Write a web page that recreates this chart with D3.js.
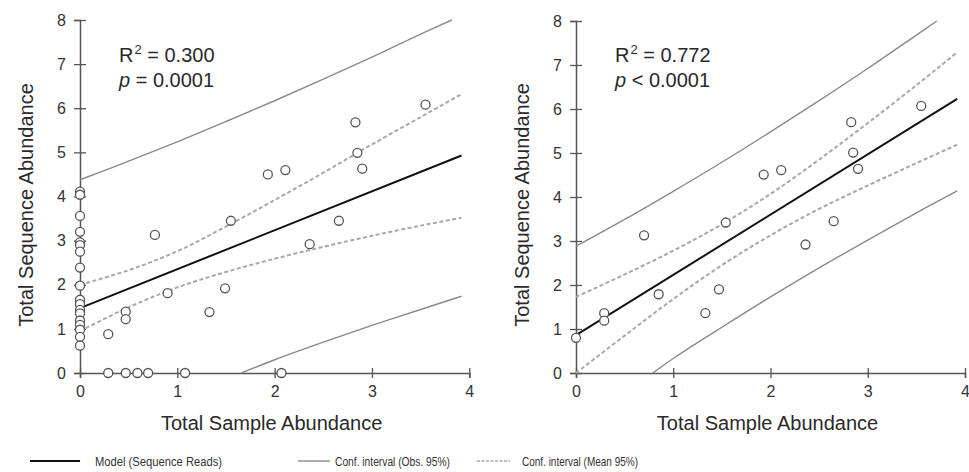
<!DOCTYPE html>
<html>
<head>
<meta charset="utf-8">
<script src="https://cdn.jsdelivr.net/npm/d3@7"></script>
<style>
  html, body { margin: 0; padding: 0; background: #fff; }
  svg { display: block; font-family: "Liberation Sans", Arial, sans-serif; }
</style>
</head>
<body>
<svg id="chart" width="969" height="472"></svg>
<script>
// ---------------- DATA ----------------
const xTicks = [0, 1, 2, 3, 4];
const yTicks = [0, 1, 2, 3, 4, 5, 6, 7, 8];

// Left panel: all samples
const leftX = [0,0,0,0,0,0,0,0,0,0,0,0,0,0,0,0,0,0,
  0.29,0.47,0.59,0.70,1.08,2.07,
  0.29,0.47,0.47,0.90,0.77,1.33,1.49,1.55,1.93,2.11,2.36,2.83,2.85,2.90,2.66,3.55];
const leftY = [4.11,4.04,3.56,3.20,2.96,2.90,2.75,2.39,1.98,1.66,1.56,1.43,1.35,1.19,1.09,0.98,0.82,0.62,
  0,0,0,0,0,0,
  0.88,1.39,1.22,1.81,3.13,1.38,1.92,3.45,4.50,4.60,2.92,5.68,4.99,4.63,3.45,6.08];

// Right panel: non-zero samples
const rightX = [0,0.29,0.29,0.70,0.85,1.33,1.47,1.54,1.93,2.11,2.83,2.85,2.90,2.65,2.36,3.55];
const rightY = [0.80,1.36,1.19,3.13,1.79,1.36,1.90,3.42,4.51,4.61,5.70,5.01,4.64,3.45,2.92,6.07];

// Regression model lines (end points)
const modelX = [0, 3.92];
const leftModel = [1.47, 4.93];
const rightModel = [0.86, 6.23];

// Confidence bands
const bandX = [0, 0.5, 1, 1.5, 2, 2.5, 3, 3.5, 3.92];
const leftMeanUpper = [2.00, 2.33, 2.76, 3.32, 3.92, 4.54, 5.18, 5.80, 6.32];
const leftMeanLower = [0.95, 1.49, 1.94, 2.29, 2.59, 2.86, 3.11, 3.34, 3.52];
const leftObsUpperX = [0, 0.5, 1, 1.5, 2, 2.5, 3, 3.5, 3.82];
const leftObsUpper = [4.38, 4.80, 5.24, 5.70, 6.17, 6.66, 7.16, 7.68, 8.0];
const leftObsLowerX = [1.66, 2, 2.5, 3, 3.5, 3.92];
const leftObsLower = [0, 0.30, 0.70, 1.08, 1.44, 1.74];

const rightMeanUpper = [1.73, 2.24, 2.78, 3.38, 4.07, 4.85, 5.68, 6.54, 7.29];
const rightMeanLower = [0, 0.85, 1.68, 2.45, 3.13, 3.73, 4.26, 4.77, 5.19];
const rightObsUpperX = [0, 0.5, 1, 1.5, 2, 2.5, 3, 3.5, 3.71];
const rightObsUpper = [2.88, 3.49, 4.13, 4.79, 5.48, 6.19, 6.92, 7.68, 8.0];
const rightObsLowerX = [0.79, 1, 1.5, 2, 2.5, 3, 3.5, 3.92];
const rightObsLower = [0, 0.33, 1.04, 1.73, 2.39, 3.02, 3.64, 4.14];

const statsLeft = ["0.300", "= 0.0001"];
const statsRight = ["0.772", "< 0.0001"];
const xTitle = "Total Sample Abundance";
const yTitle = "Total Sequence Abundance";
const legendLabels = ["Model (Sequence Reads)", "Conf. interval (Obs. 95%)", "Conf. interval (Mean 95%)"];

// ---------------- DRAW ----------------
const svg = d3.select("#chart");
const AXIS = "#555";
const TXT = "#2a2a2a";

function zip(xs, ys) { return xs.map((x, i) => [x, ys[i]]); }

function panel(cfg) {
  const x = d3.scaleLinear().domain([0, 4]).range([cfg.left, cfg.right]);
  const y = d3.scaleLinear().domain([0, 8]).range([cfg.bottom, cfg.top]);
  const g = svg.append("g");

  // x axis
  const gx = g.append("g").attr("transform", `translate(0,${cfg.bottom})`)
    .call(d3.axisBottom(x).tickValues(xTicks).tickSizeOuter(0).tickSize(5).tickFormat(d3.format("d")));
  gx.selectAll(".tick line").attr("y1", -5).attr("y2", 5).attr("stroke", AXIS).attr("stroke-width", 1.3);
  gx.selectAll(".tick text").attr("y", 13).attr("font-size", 16).attr("fill", "#333")
    .attr("font-family", "'Liberation Sans', Arial, sans-serif");
  gx.select(".domain").attr("stroke", AXIS).attr("stroke-width", 1.5);

  // y axis
  const gy = g.append("g").attr("transform", `translate(${cfg.left},0)`)
    .call(d3.axisLeft(y).tickValues(yTicks).tickSizeOuter(0).tickSize(6).tickFormat(d3.format("d")));
  gy.selectAll(".tick line").attr("x1", -6).attr("x2", 6).attr("stroke", AXIS).attr("stroke-width", 1.3);
  gy.selectAll(".tick text").attr("x", -14).attr("font-size", 16).attr("fill", "#333")
    .attr("font-family", "'Liberation Sans', Arial, sans-serif");
  gy.select(".domain").attr("stroke", AXIS).attr("stroke-width", 1.5);

  const line = d3.line().x(d => x(d[0])).y(d => y(d[1])).curve(d3.curveCatmullRom.alpha(0.5));

  // obs CI
  g.append("path").attr("d", line(zip(cfg.obsUpperX, cfg.obsUpper)))
    .attr("fill", "none").attr("stroke", "#8a8a8a").attr("stroke-width", 1.4);
  g.append("path").attr("d", line(zip(cfg.obsLowerX, cfg.obsLower)))
    .attr("fill", "none").attr("stroke", "#8a8a8a").attr("stroke-width", 1.4);
  // mean CI
  g.append("path").attr("d", line(zip(bandX, cfg.meanUpper)))
    .attr("fill", "none").attr("stroke", "#a8a8a8").attr("stroke-width", 2).attr("stroke-dasharray", "4,2.5");
  g.append("path").attr("d", line(zip(bandX, cfg.meanLower)))
    .attr("fill", "none").attr("stroke", "#a8a8a8").attr("stroke-width", 2).attr("stroke-dasharray", "4,2.5");
  // model
  g.append("path").attr("d", d3.line().x(d => x(d[0])).y(d => y(d[1]))(zip(modelX, cfg.model)))
    .attr("fill", "none").attr("stroke", "#111").attr("stroke-width", 2);

  // points
  g.selectAll("circle").data(zip(cfg.px, cfg.py)).join("circle")
    .attr("cx", d => x(d[0])).attr("cy", d => y(d[1])).attr("r", 4.5)
    .attr("fill", "#fff").attr("stroke", "#555").attr("stroke-width", 1.3);

  // stats text
  const t1 = g.append("text").attr("x", cfg.left + 39).attr("y", 62).attr("font-size", 20).attr("fill", TXT);
  t1.append("tspan").text("R");
  t1.append("tspan").attr("font-size", 13).attr("dy", -8).attr("dx", 1).text("2");
  t1.append("tspan").attr("dy", 8).text(" = " + cfg.stats[0]);
  const t2 = g.append("text").attr("x", cfg.left + 39).attr("y", 87).attr("font-size", 20).attr("fill", TXT);
  t2.append("tspan").attr("font-style", "italic").text("p");
  t2.append("tspan").text(" " + cfg.stats[1]);

  // axis titles
  g.append("text").attr("x", (cfg.left + cfg.right) / 2 - 3).attr("y", 430)
    .attr("text-anchor", "middle").attr("font-size", 20).attr("fill", TXT).text(xTitle);
  g.append("text").attr("transform", `translate(${cfg.left - 47},205) rotate(-90)`)
    .attr("text-anchor", "middle").attr("font-size", 20).attr("fill", TXT).text(yTitle);
}

panel({ left: 80, right: 469.3, top: 20, bottom: 373,
  px: leftX, py: leftY, model: leftModel,
  meanUpper: leftMeanUpper, meanLower: leftMeanLower,
  obsUpperX: leftObsUpperX, obsUpper: leftObsUpper, obsLowerX: leftObsLowerX, obsLower: leftObsLower,
  stats: statsLeft });

panel({ left: 576, right: 965, top: 21, bottom: 373,
  px: rightX, py: rightY, model: rightModel,
  meanUpper: rightMeanUpper, meanLower: rightMeanLower,
  obsUpperX: rightObsUpperX, obsUpper: rightObsUpper, obsLowerX: rightObsLowerX, obsLower: rightObsLower,
  stats: statsRight });

// legend
const leg = svg.append("g");
const legItems = [
  { x1: 30, x2: 80, tx: 95, w: 127, stroke: "#111", sw: 2, dash: null },
  { x1: 298, x2: 330, tx: 335, w: 115, stroke: "#8a8a8a", sw: 1.4, dash: null },
  { x1: 477, x2: 510, tx: 522, w: 116, stroke: "#a8a8a8", sw: 1.6, dash: "3,1.5" }
];
legItems.forEach((it, i) => {
  const l = leg.append("line").attr("x1", it.x1).attr("x2", it.x2).attr("y1", 461).attr("y2", 461)
    .attr("stroke", it.stroke).attr("stroke-width", it.sw);
  if (it.dash) l.attr("stroke-dasharray", it.dash);
  leg.append("text").attr("x", it.tx).attr("y", 465.5).attr("font-size", 13)
    .attr("font-family", "'Liberation Sans Narrow', 'Arial Narrow', 'Liberation Sans', Arial, sans-serif")
    .attr("fill", "#333").attr("textLength", it.w).attr("lengthAdjust", "spacingAndGlyphs")
    .text(legendLabels[i]);
});
</script>
</body>
</html>
